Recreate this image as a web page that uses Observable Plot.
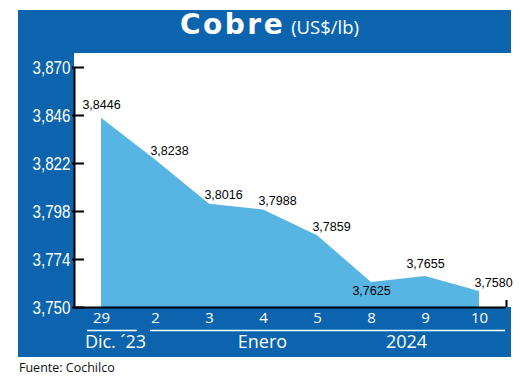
<!DOCTYPE html>
<html>
<head>
<meta charset="utf-8">
<script src="https://cdn.jsdelivr.net/npm/d3@7"></script>
<script src="https://cdn.jsdelivr.net/npm/@observablehq/plot@0.6"></script>
<style>
  html, body { margin: 0; padding: 0; background: #fff; }
  #wrap { position: relative; width: 520px; height: 378px; overflow: hidden; background: #fff; }
  #blue { position: absolute; left: 18px; top: 10px; width: 493px; height: 347px; background: #0b64ad; }
  #white { position: absolute; left: 74px; top: 53px; width: 437px; height: 254px; background: #fff; }
  #title { position: absolute; left: 180px; top: 5px; white-space: nowrap; color: #fff;
           font-family: "DejaVu Sans", sans-serif; font-size: 28px; line-height: 40px; }
  #title .main { font-weight: 700; letter-spacing: 2.5px; }
  #title .unit { font-family: "Open Sans", sans-serif; font-size: 18.5px; letter-spacing: 0px; margin-left: 6px; }
  #chart { position: absolute; left: 18px; top: 53px; }
  #foot { position: absolute; left: 19px; top: 359px; font-family: "Open Sans", sans-serif; font-size: 12.5px; color: #111; }
</style>
</head>
<body>
<div id="wrap">
  <div id="blue"></div>
  <div id="white"></div>
  <div id="title"><span class="main">Cobre</span><span class="unit">(US$/lb)</span></div>
  <div id="chart"></div>
  <div id="foot">Fuente: Cochilco</div>
</div>
<script>
const days = ["29", "2", "3", "4", "5", "8", "9", "10"];
const values = [3.8446, 3.8238, 3.8016, 3.7988, 3.7859, 3.7625, 3.7655, 3.7580];
const labelPlacement = ["top", "right", "right", "right", "right", "bottom", "top", "right"];
const yTicks = [3.750, 3.774, 3.798, 3.822, 3.846, 3.870];
const yDomain = [3.750, 3.870];
const groupLabels = ["Dic. ´23", "Enero", "2024"];
const groupAnchor = ["29", "4", "8"];

const data = days.map((d, i) => ({day: d, value: values[i], place: labelPlacement[i]}));
const groups = groupLabels.map((g, i) => ({label: g, at: groupAnchor[i]}));
const fmt4 = v => v.toFixed(4).replace(".", ",");
const fmt3 = v => v.toFixed(3).replace(".", ",");
const base = () => yDomain[0];

const labelFont = {fontSize: 12.5, fill: "#000", fontFamily: "'Liberation Sans', sans-serif", ariaLabel: "value label"};
const groupFont = {fill: "white", fontSize: 18, fontFamily: "'Open Sans', sans-serif"};

const chart = Plot.plot({
  width: 493,
  height: 304,
  marginLeft: 56,
  marginRight: 5,
  marginTop: 14,
  marginBottom: 50,
  style: {background: "transparent", overflow: "visible"},
  x: {type: "point", domain: days, padding: 0.5, label: null},
  y: {domain: yDomain, label: null},
  marks: [
    Plot.areaY(data, {x: "day", y1: base, y2: "value", fill: "#57b5e3"}),
    Plot.ruleY([yDomain[0]], {stroke: "#000", strokeWidth: 2}),
    Plot.ruleX([days[0]], {x: d => d, dx: -27, y1: yDomain[0], y2: yDomain[1], stroke: "#000", strokeWidth: 2}),
    Plot.ruleX([days[days.length - 1]], {x: d => d, dx: 27, y1: base, y2: base, insetTop: -7, stroke: "#000", strokeWidth: 2}),
    Plot.tickY(yTicks, {y: d => d, stroke: "#000", strokeWidth: 2, insetLeft: -2, insetRight: 422}),
    Plot.axisY({ticks: yTicks, anchor: "left", label: null, tickSize: 0, tickPadding: 4, tickFormat: fmt3, color: "white",
      fontSize: 19, fontFamily: "'Liberation Sans', sans-serif"}),
    Plot.axisX({anchor: "bottom", label: null, tickSize: 0, tickPadding: 5, color: "white", fontSize: 15,
      fontFamily: "'Open Sans', sans-serif"}),
    Plot.text(data.filter(d => d.place === "top"), {x: "day", y: "value", text: d => fmt4(d.value), dy: -13, ...labelFont}),
    Plot.text(data.filter(d => d.place === "right"), {x: "day", y: "value", text: d => fmt4(d.value), dx: 14, dy: -9, ...labelFont}),
    Plot.text(data.filter(d => d.place === "bottom"), {x: "day", y: "value", text: d => fmt4(d.value), dy: 8, ...labelFont}),
    Plot.ruleY([groups[0]], {y: base, x1: d => d.at, x2: d => d.at, dy: 23, insetLeft: -14, insetRight: -36, stroke: "white", strokeWidth: 1.5}),
    Plot.ruleY([groups[1]], {y: base, x1: () => days[1], x2: () => days[days.length - 1], dy: 23, insetLeft: -5, insetRight: -26, stroke: "white", strokeWidth: 1.5}),
    Plot.text([groups[0]], {x: "at", y: base, text: "label", dx: 14, dy: 35, ...groupFont}),
    Plot.text([groups[1]], {x: "at", y: base, text: "label", dx: -1, dy: 35, ...groupFont}),
    Plot.text([groups[2]], {x: "at", y: base, text: "label", dx: 35, dy: 35, ...groupFont})
  ]
});
// condensed look of the original typeface
chart.querySelectorAll('g[aria-label="y-axis tick label"] text').forEach(t => {
  t.setAttribute("textLength", 38); t.setAttribute("lengthAdjust", "spacingAndGlyphs");
});
chart.querySelectorAll('g[aria-label="value label"] text').forEach(t => {
  t.setAttribute("textLength", 24); t.setAttribute("lengthAdjust", "spacingAndGlyphs");
});
document.getElementById("chart").appendChild(chart);
</script>
</body>
</html>
